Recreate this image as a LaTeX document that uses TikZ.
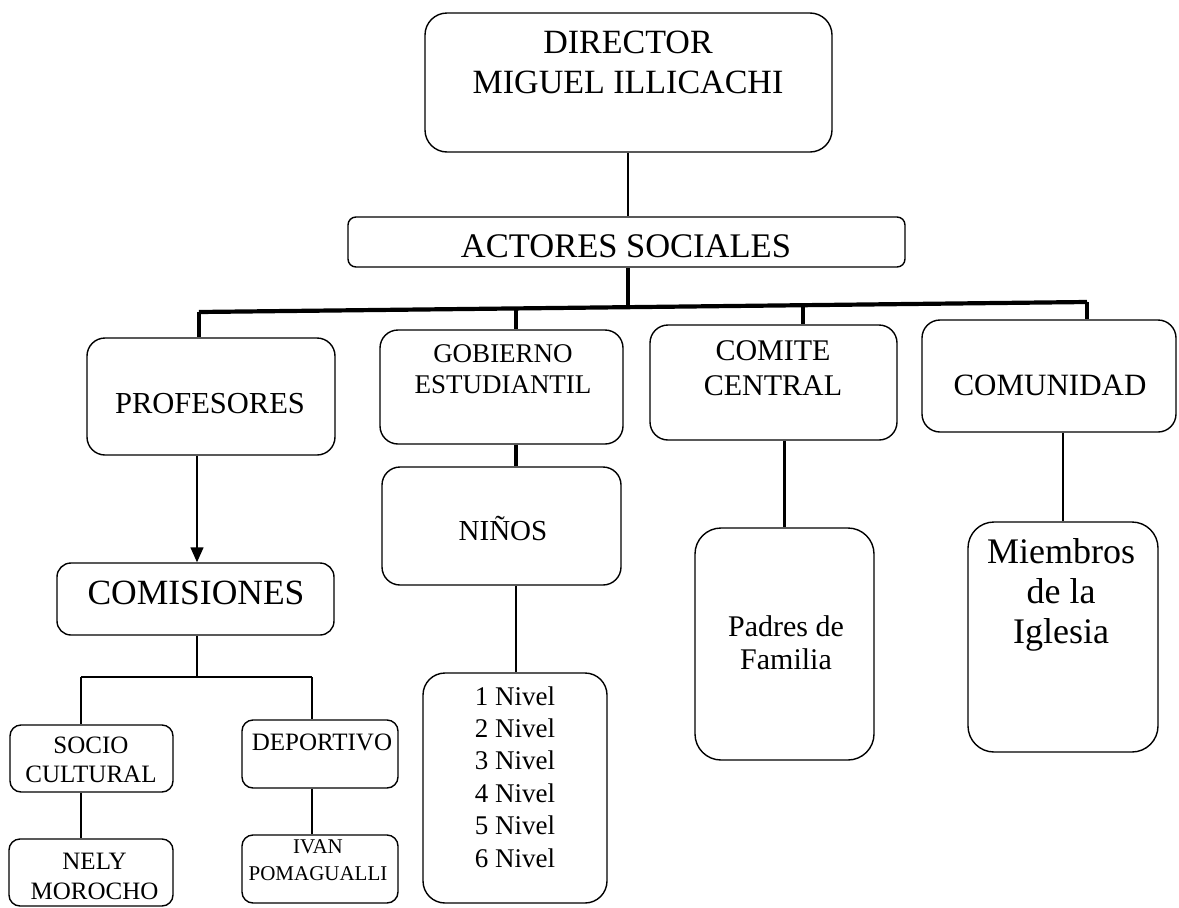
\documentclass[tikz,border=0pt]{standalone}
\usepackage{fontspec}
\setmainfont{Liberation Serif}
\usepackage{tikz}
\usetikzlibrary{arrows.meta}

\newcommand{\tam}[2]{\fontsize{#1}{#2}\selectfont}

\tikzset{
	caja/.style={draw, rectangle, rounded corners=18pt, line width=1.4pt, inner sep=0pt},
	cajita/.style={caja, rounded corners=11pt},
	texto/.style={align=center, anchor=base, inner sep=0pt},
	rama/.style={line width=2.4pt},
	barra/.style={line width=4.2pt},
	flecha/.style={line width=1.4pt, -{Triangle[length=15pt, width=13pt]}}
}

\begin{document}
\begin{tikzpicture}[x=1pt, y=-1pt]
	\useasboundingbox (0,0) rectangle (1179,908);
	% cajas
	\node (director) at (628.5,82.5) [caja, rounded corners=22pt, minimum width=407pt, minimum height=139pt] {};
	\node (actores) at (626.5,242) [caja, rounded corners=8pt, minimum width=557pt, minimum height=50pt] {};
		\node (profesores) at (211,396.5) [caja, minimum width=248pt, minimum height=117pt] {};
		\node (gobierno) at (501.5,387) [caja, minimum width=243pt, minimum height=114pt] {};
		\node (comite) at (773.5,382.5) [caja, minimum width=247pt, minimum height=115pt] {};
		\node (comunidad) at (1049,376) [caja, minimum width=254pt, minimum height=112pt] {};
			\node (ninos) at (501.5,526) [caja, minimum width=239pt, minimum height=118pt] {};
			\node (comisiones) at (195.5,599) [caja, rounded corners=14pt, minimum width=277pt, minimum height=72pt] {};
			\node (padres) at (784.5,644) [caja, rounded corners=26pt, minimum width=179pt, minimum height=232pt] {};
			\node (miembros) at (1063,637) [caja, rounded corners=26pt, minimum width=190pt, minimum height=230pt] {};
				\node (socio) at (91.5,758.5) [cajita, minimum width=163pt, minimum height=67pt] {};
				\node (deportivo) at (320,754) [cajita, minimum width=156pt, minimum height=68pt] {};
				\node (niveles) at (515,788) [caja, rounded corners=22pt, minimum width=184pt, minimum height=230pt] {};
				\node (nely) at (91,872.5) [cajita, minimum width=164pt, minimum height=67pt] {};
				\node (ivan) at (320,869) [cajita, minimum width=156pt, minimum height=68pt] {};
	% textos (base = ultima linea)
	\node (t-director) at (628,93) [texto, font=\tam{34}{40}] {DIRECTOR\\MIGUEL ILLICACHI};
	\node (t-actores) at (626,257) [texto, font=\tam{34.5}{40}] {ACTORES SOCIALES};
	\node (t-profesores) at (210,413) [texto, font=\tam{30.5}{36}] {PROFESORES};
	\node (t-gobierno) at (503,393) [texto, font=\tam{27}{31}] {GOBIERNO\\ESTUDIANTIL};
	\node (t-comite) at (773,395) [texto, font=\tam{30}{35}] {COMITE\\CENTRAL};
	\node (t-comunidad) at (1050,395) [texto, font=\tam{31}{36}] {COMUNIDAD};
	\node (t-ninos) at (503,540) [texto, font=\tam{29}{34}] {NIÑOS};
	\node (t-comisiones) at (196,604) [texto, font=\tam{35.5}{40}] {COMISIONES};
	\node (t-socio) at (91,782) [texto, font=\tam{25}{29}] {SOCIO\\CULTURAL};
	\node (t-deportivo) at (322,750) [texto, font=\tam{25}{29}] {DEPORTIVO};
	\node (t-nely) at (94.5,899) [texto, font=\tam{25}{30}] {NELY\\MOROCHO};
	\node (t-ivan) at (318,880) [texto, font=\tam{21}{27}] {IVAN\\POMAGUALLI};
	\node (t-niveles) at (515,867) [texto, font=\tam{27}{32.4}] {1 Nivel\\2 Nivel\\3 Nivel\\4 Nivel\\5 Nivel\\6 Nivel};
	\node (t-padres) at (786,669) [texto, font=\tam{30}{33}] {Padres de\\Familia};
	\node (t-miembros) at (1061,643) [texto, font=\tam{36}{40}] {Miembros\\de la\\Iglesia};
	% lineas
	\coordinate (b0) at (628,307.2);
	\coordinate (b1) at (199,312);
	\coordinate (b2) at (516,308.4);
	\coordinate (b3) at (803,305.2);
	\coordinate (b4) at (1087,302);
	\coordinate (c0) at (197,677);
	\coordinate (c1) at (81,677);
	\coordinate (c2) at (312,677);
	\draw[rama] (director.south -| b0) -- (actores.north -| b0);
	\draw[barra] (actores.south -| b0) -- (b0);
	\draw[barra] (b1) -- (b4);
	\draw[barra] (b1) -- (b1 |- profesores.north);
	\draw[barra] (b2) -- (b2 |- gobierno.north);
	\draw[barra] (b3) -- (b3 |- comite.north);
	\draw[barra] (b4) -- (b4 |- comunidad.north);
	\draw[barra] (b2 |- gobierno.south) -- (b2 |- ninos.north);
	\draw[rama] (b2 |- ninos.south) -- (b2 |- niveles.north);
	\draw[flecha] (c0 |- profesores.south) -- (c0 |- comisiones.north);
	\draw[rama] (comite.south -| padres.north) -- (padres.north);
	\draw[rama] (comunidad.south -| miembros.north) -- (miembros.north);
	\draw[rama] (c0 |- comisiones.south) -- (c0);
	\draw[rama] (c1) -- (c2);
	\draw[rama] (c1) -- (c1 |- socio.north);
	\draw[rama] (c2) -- (c2 |- deportivo.north);
	\draw[rama] (c1 |- socio.south) -- (c1 |- nely.north);
	\draw[rama] (c2 |- deportivo.south) -- (c2 |- ivan.north);
\end{tikzpicture}
\end{document}
